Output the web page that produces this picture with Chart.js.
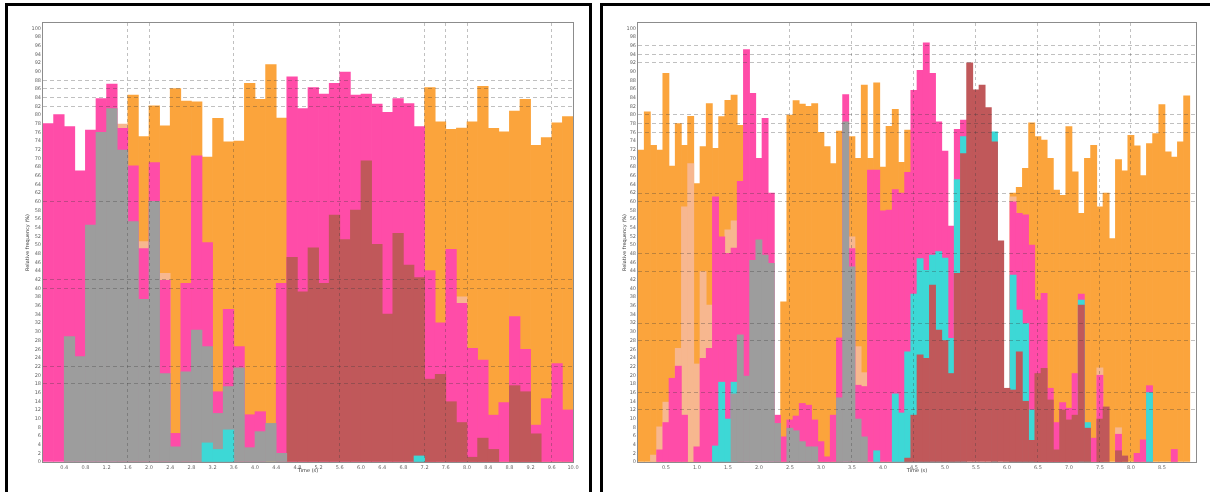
<!DOCTYPE html>
<html>
<head>
<meta charset="utf-8">
<script src="https://cdn.jsdelivr.net/npm/chart.js@4.4.1/dist/chart.umd.min.js"></script>
<style>
  body { margin: 0; background: #fff; width: 1210px; height: 492px; overflow: hidden; position: relative; }
  .box { position: absolute; top: 3px; height: 520px; border: 3px solid #000; box-sizing: border-box; }
  #boxL { left: 5px; width: 587px; }
  #boxR { left: 600px; width: 640px; }
  canvas { position: absolute; }
  #left { left: 9px; top: 6px; }
  #right { left: 604px; top: 6px; }
</style>
</head>
<body>
<div class="box" id="boxL"></div>
<div class="box" id="boxR"></div>
<canvas id="left" width="578" height="480"></canvas>
<canvas id="right" width="600" height="480"></canvas>
<script>
// tick labels (left panel: every 2nd bin edge, right panel: every 5th bin)
const leftTicks = ['0.4', '0.8', '1.2', '1.6', '2.0', '2.4', '2.8', '3.2', '3.6', '4.0', '4.4', '4.8', '5.2',
    '5.6', '6.0', '6.4', '6.8', '7.2', '7.6', '8.0', '8.4', '8.8', '9.2', '9.6', '10.0'];
const rightTicks = ['0.5', '1.0', '1.5', '2.0', '2.5', '3.0', '3.5', '4.0', '4.5', '5.0', '5.5', '6.0', '6.5',
    '7.0', '7.5', '8.0', '8.5'];
const yTicks = [0, 2, 4, 6, 8, 10, 12, 14, 16, 18, 20, 22, 24, 26, 28, 30, 32, 34, 36, 38, 40, 42, 44, 46, 48,
    50, 52, 54, 56, 58, 60, 62, 64, 66, 68, 70, 72, 74, 76, 78, 80, 82, 84, 86, 88, 90, 92, 94, 96, 98, 100];

// left panel, 50 bins (% of time)
const orangeL = [null, null, null, null, null, null, null, null, 84.6, 75.0,
    82.1, 77.5, 86.1, 83.2, 83.0, 70.3, 79.2, 73.8, 74.0, 87.3,
    83.6, 91.6, 79.3, null, null, null, null, null, null, null,
    null, null, null, null, null, null, 86.3, 78.4, 76.7, 77.0,
    78.4, 86.6, 76.9, 76.1, 80.9, 83.6, 73.0, 74.8, 78.2, 79.6];
const peachL = [null, null, null, null, null, null, null, 77.9, null, 50.8,
    null, 43.5, null, null, null, null, null, null, null, null,
    null, null, null, null, null, null, null, null, null, null,
    null, null, null, null, null, null, null, null, null, 38.1,
    null, null, null, null, null, null, null, null, null, null];
const pinkL = [78.0, 80.1, 77.3, 67.1, 76.5, 83.8, 87.1, 76.9, 68.3, 49.2,
    69.0, 41.9, 6.6, 41.2, 70.6, 50.6, 16.2, 35.2, 26.6, 10.9,
    11.6, null, 41.2, 88.8, 81.5, 86.3, 84.8, 87.3, 89.9, 84.6,
    84.8, 82.5, 80.6, 83.8, 82.6, 77.3, 44.1, 32.1, 49.0, 36.6,
    26.2, 23.5, 10.8, 13.7, 33.5, 26.0, 8.5, 14.6, 22.7, 12.0];
const grayL = [null, null, 28.9, 24.3, 54.6, 76.0, 81.5, 71.9, 55.4, 37.5,
    60.1, 20.4, 3.5, 20.8, 30.4, 26.6, 11.2, 17.4, 21.7, 3.3,
    7.0, 8.9, 2.0, null, null, null, null, null, null, null,
    null, null, null, null, null, null, null, null, null, null,
    null, null, null, null, null, null, null, null, null, null];
const brownL = [null, null, null, null, null, null, null, null, null, null,
    null, null, null, null, null, null, null, null, null, null,
    null, null, null, 47.2, 39.2, 49.4, 41.2, 56.9, 51.3, 58.1,
    69.4, 50.2, 34.1, 52.7, 45.4, 42.5, 19.1, 20.2, 13.9, 9.1,
    1.1, 5.5, 2.9, null, 17.6, 16.2, 6.5, null, null, null];
const cyanL = [null, null, null, null, null, null, null, null, null, null,
    null, null, null, null, null, 4.4, 2.9, 7.4, null, null,
    null, null, null, null, null, null, null, null, null, null,
    null, null, null, null, null, 1.4, null, null, null, null,
    null, null, null, null, null, null, null, null, null, null];

// right panel, 90 bins
const orangeR = [71.9, 80.7, 73.0, 71.9, 89.6, 68.2, 78.0, 73.0, 79.7, 64.2,
    72.7, 82.6, 72.3, 79.6, 83.4, 84.6, 77.6, null, null, null,
    null, null, null, 36.9, 80.0, 83.3, 82.5, 82.0, 82.6, 76.0,
    72.7, 68.8, 76.3, null, 75.0, 70.0, 86.9, 70.0, 87.4, 68.0,
    77.4, 81.3, 69.1, 76.5, null, null, null, null, null, null,
    null, null, null, null, null, null, null, null, null, null,
    62.0, 63.3, 67.7, 78.2, 75.0, 74.2, 70.0, 62.7, 61.5, 77.3,
    66.9, 57.3, 70.0, 73.0, 58.8, 62.0, 51.5, 69.7, 67.1, 75.3,
    72.9, 66.0, 73.4, 75.7, 82.4, 71.5, 70.3, 73.8, 84.4, 73.4];
const peachR = [null, null, 1.6, 8.1, 13.8, null, 26.2, 58.8, 68.8, 22.6,
    43.9, 36.2, null, null, 53.5, 55.6, null, null, null, null,
    null, null, null, null, null, null, null, null, null, null,
    null, null, null, null, 51.9, 26.6, 20.6, null, null, null,
    null, null, null, null, null, null, null, null, null, null,
    null, null, null, null, null, null, null, null, null, null,
    61.1, null, null, null, null, null, null, null, null, null,
    null, null, null, null, 21.7, null, null, 7.9, null, null,
    null, null, null, null, null, null, null, null, null, null];
const pinkR = [null, null, null, 2.8, 9.1, 19.3, 22.1, 10.8, null, 3.5,
    23.9, 26.2, 61.1, 51.9, 48.1, 49.3, 64.7, 95.1, 85.0, 70.0,
    79.2, 62.0, 10.8, 5.8, 9.7, 10.6, 13.5, 13.1, 9.7, 4.7,
    1.2, 10.8, 28.6, 84.7, 49.2, 17.7, 17.4, 67.3, 67.3, 57.9,
    58.1, 62.8, 62.0, 66.8, 85.7, 90.3, 96.6, 89.6, 78.4, 71.7,
    54.4, 76.7, 78.8, null, null, null, null, null, null, null,
    60.0, 57.3, 57.0, 50.0, 37.3, 38.9, 17.0, 9.1, 13.7, 12.4,
    20.4, 38.7, null, 5.5, 20.0, null, null, 6.4, null, null,
    2.0, 5.1, 17.6, null, null, null, 2.9, null, null, null];
const cyanR = [null, null, null, null, null, null, null, null, null, null,
    null, null, 3.7, 18.4, 9.9, 18.4, null, null, null, null,
    null, null, null, null, null, null, null, null, null, null,
    null, null, null, null, null, null, null, null, 2.6, null,
    null, 15.7, 11.3, 25.4, 38.7, 46.9, 44.2, 47.7, 48.5, 47.0,
    28.5, 65.1, 75.0, null, null, null, null, 76.1, null, null,
    43.1, 35.0, 31.9, 12.0, null, null, null, null, null, null,
    null, 37.3, 9.1, null, null, null, null, null, null, null,
    null, null, 16.0, null, null, null, null, null, null, null];
const grayR = [null, null, null, null, null, null, null, null, null, null,
    null, null, null, null, null, 15.7, 29.3, 19.8, 46.5, 51.2,
    47.7, 45.8, 8.9, null, 7.8, 7.2, 4.7, 3.5, 3.5, null,
    null, null, 14.8, 78.4, 45.0, 9.9, 5.8, null, null, null,
    null, null, null, null, null, null, null, null, null, null,
    null, null, null, null, null, null, null, null, null, null,
    null, null, null, null, null, null, null, null, null, null,
    null, null, null, null, null, null, null, null, null, null,
    null, null, null, null, null, null, null, null, null, null];
const brownR = [null, null, null, null, null, null, null, null, null, null,
    null, null, null, null, null, null, null, null, null, null,
    null, null, null, null, null, null, null, null, null, null,
    null, null, null, null, null, null, null, null, null, null,
    null, null, null, 0.9, 10.8, 24.7, 23.9, 40.8, 30.4, 28.0,
    20.4, 43.5, 71.1, 92.0, 85.8, 86.9, 81.7, 73.8, 51.0, 17.0,
    16.6, 25.4, 14.0, 5.0, 20.4, 21.6, 14.3, 2.8, 12.0, 9.7,
    10.8, 36.2, 7.8, null, 9.9, 12.7, null, 2.6, 1.4, null,
    null, null, null, null, null, null, null, null, null, null];

// which grid lines are visible
const hLinesL = [18, 22, 40, 42, 60, 82, 84, 86, 88];
const vLinesL = [8, 10, 18, 28, 36, 38, 40, 48];
const hLinesR = [12, 16, 28, 32, 44, 48, 60, 62, 76, 78, 80, 92, 94, 96];
const vLinesR = [24, 34, 44, 54, 64, 74, 79];

const COLORS = {
    orange: '#fba43c', peach: '#f7b78f', pink: '#ff4ca8',
    cyan: '#3dd8d6', brown: '#c0585a', gray: '#9d9d9d'
};
const GRID = 'rgba(60,60,60,0.32)';
const NONE = 'rgba(0,0,0,0)';
const FONT = { family: 'DejaVu Sans', size: 5 };

// gray frame around the plot area
const framePlugin = {
    id: 'frame',
    afterDraw(chart) {
        const a = chart.chartArea;
        const ctx = chart.ctx;
        ctx.save();
        ctx.strokeStyle = '#8c8c8c';
        ctx.lineWidth = 1;
        ctx.strokeRect(Math.round(a.left) - 0.5, Math.round(a.top) - 0.5,
            Math.round(a.width) + 1, Math.round(a.height) + 1);
        ctx.restore();
    }
};

function bars(label, data, color, order) {
    return {
        label: label, data: data, backgroundColor: color, order: order,
        borderWidth: 0, grouped: false, barPercentage: 1, categoryPercentage: 1
    };
}

function makeChart(id, labels, datasets, hLines, vLines, opt) {
    new Chart(document.getElementById(id), {
        type: 'bar',
        data: { labels: labels, datasets: datasets },
        plugins: [framePlugin],
        options: {
            responsive: false,
            animation: false,
            layout: { padding: { top: 17, right: opt.padRight, left: 0, bottom: 0 } },
            plugins: { legend: { display: false }, tooltip: { enabled: false } },
            scales: {
                x: {
                    offset: true,
                    grid: {
                        offset: opt.gridOffset, z: 1, drawTicks: false,
                        color: c => vLines.includes(c.index) ? GRID : NONE
                    },
                    border: { display: false, dash: [3, 3] },
                    ticks: {
                        autoSkip: false, maxRotation: 0, minRotation: 0, padding: 3,
                        labelOffset: opt.labelOffset, font: FONT, color: '#666'
                    },
                    title: {
                        display: true, text: 'Time (s)', font: FONT, color: '#333',
                        padding: { top: 0, bottom: 12 }
                    },
                    afterFit: s => { s.height = 24; }
                },
                y: {
                    min: 0,
                    max: 101.2,
                    ticks: { autoSkip: false, padding: 2, font: FONT, color: '#666' },
                    afterBuildTicks: s => { s.ticks = yTicks.map(v => ({ value: v })); },
                    grid: {
                        z: 1, drawTicks: false,
                        color: c => (c.tick && hLines.includes(c.tick.value)) ? GRID : NONE
                    },
                    border: { display: false, dash: [4, 3] },
                    title: {
                        display: true, text: 'Relative frequency (%)', font: FONT, color: '#333',
                        padding: { top: opt.titlePad, bottom: 0 }
                    },
                    afterFit: s => { s.width = 34; }
                }
            }
        }
    });
}

// category labels: left ticks on every 2nd bin edge, right ticks on every 5th bin
const leftLabels = [];
for (let i = 0; i < orangeL.length; i++) {
    leftLabels.push(i % 2 === 1 ? leftTicks[(i - 1) / 2] : '');
}
const rightLabels = [];
for (let i = 0; i < orangeR.length; i++) {
    rightLabels.push(i % 5 === 4 ? rightTicks[(i - 4) / 5] : '');
}

// lower order = drawn in front
makeChart('left', leftLabels, [
    bars('cyan', cyanL, COLORS.cyan, 0),
    bars('gray', grayL, COLORS.gray, 1),
    bars('brown', brownL, COLORS.brown, 2),
    bars('pink', pinkL, COLORS.pink, 4),
    bars('peach', peachL, COLORS.peach, 5),
    bars('orange', orangeL, COLORS.orange, 6)
], hLinesL, vLinesL, { padRight: 14, gridOffset: true, labelOffset: 5.3, titlePad: 16 });

makeChart('right', rightLabels, [
    bars('gray', grayR, COLORS.gray, 1),
    bars('brown', brownR, COLORS.brown, 2),
    bars('cyan', cyanR, COLORS.cyan, 3),
    bars('pink', pinkR, COLORS.pink, 4),
    bars('peach', peachR, COLORS.peach, 5),
    bars('orange', orangeR, COLORS.orange, 6)
], hLinesR, vLinesR, { padRight: 8, gridOffset: false, labelOffset: 0, titlePad: 18 });
</script>
</body>
</html>
